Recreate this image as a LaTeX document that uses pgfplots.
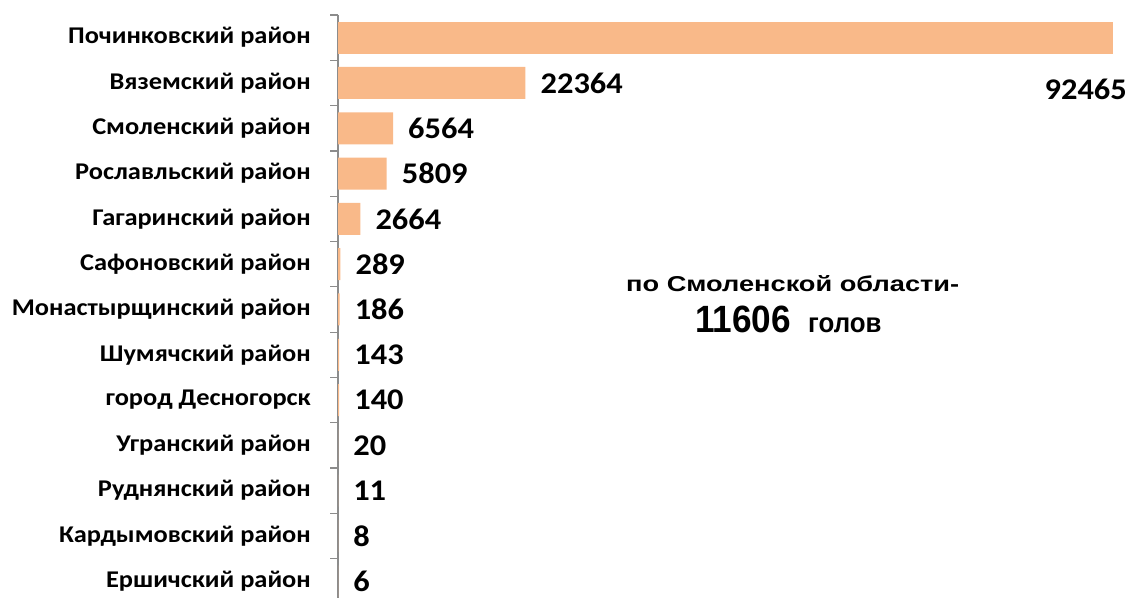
\documentclass[border=0pt]{standalone}
\usepackage{fontspec}
\setmainfont{Carlito}
\newfontfamily\arialfont{Liberation Sans}
\usepackage{pgfplots}
\pgfplotsset{compat=1.18}
\definecolor{barc}{RGB}{249,185,137}
\definecolor{axc}{RGB}{140,140,140}
\begin{document}
\begin{tikzpicture}[x=1pt,y=1pt]
\path[use as bounding box] (0,0) rectangle (1131,597);
\begin{axis}[
  at={(338pt,287.5pt)}, anchor=west,
  width=775pt, height=589pt, scale only axis,
  xmin=0, xmax=92465,
  ymin=-0.5, ymax=12.5,
  hide x axis,
  axis y line*=left,
  y axis line style={axc, line width=1.2pt},
  ytick={0,...,12},
  yticklabels={Ершичский район, Кардымовский район, Руднянский район, Угранский район, город Десногорск, Шумячский район, Монастырщинский район, Сафоновский район, Гагаринский район, Рославльский район, Смоленский район, Вяземский район, Починковский район},
  major tick length=0pt,
  minor ytick={-0.5,0.5,...,12.5},
  minor tick length=8pt,
  tick align=outside,
  every minor tick/.style={axc, line width=1.2pt},
  y tick label style={font=\bfseries\fontsize{24}{24}\selectfont, anchor=east, inner sep=0pt, xshift=-27pt, xscale=1.1},
  xbar, bar width=32pt,
  clip=false,
  point meta=explicit symbolic,
]
\addplot[fill=barc, draw=none, bar shift=0pt,
  nodes near coords,
  every node near coord/.style={anchor=west, inner sep=0pt, xshift=15pt, xscale=1.08, font=\bfseries\fontsize{30}{30}\selectfont, text=black}]
  coordinates {
  (22364,11) [22364]
  (6564,10) [6564]
  (5809,9) [5809]
  (2664,8) [2664]
  (289,7) [289]
  (186,6) [186]
  (143,5) [143]
  (140,4) [140]
  (20,3) [20]
  (11,2) [11]
  (8,1) [8]
  (6,0) [6]
  };
\addplot[fill=barc, draw=none, bar shift=0pt,
  nodes near coords,
  every node near coord/.style={anchor=east, inner sep=0pt, xshift=14pt, yshift=-52pt, xscale=1.08, font=\bfseries\fontsize{30}{30}\selectfont, text=black}]
  coordinates {(92465,12) [92465]};
\end{axis}
\node[anchor=base west, inner sep=0pt] at (626,305) {\scalebox{1.265}[1]{\arialfont\bfseries\fontsize{21.5}{21.5}\selectfont по Смоленской области-}};
\node[anchor=base west, inner sep=0pt] at (695,264.3) {\scalebox{0.925}[1]{\arialfont\bfseries\fontsize{38}{38}\selectfont 11606}};
\node[anchor=base west, inner sep=0pt] at (808,264.3) {\scalebox{0.94}[1]{\arialfont\bfseries\fontsize{27.5}{27.5}\selectfont голов}};
\end{tikzpicture}
\end{document}
